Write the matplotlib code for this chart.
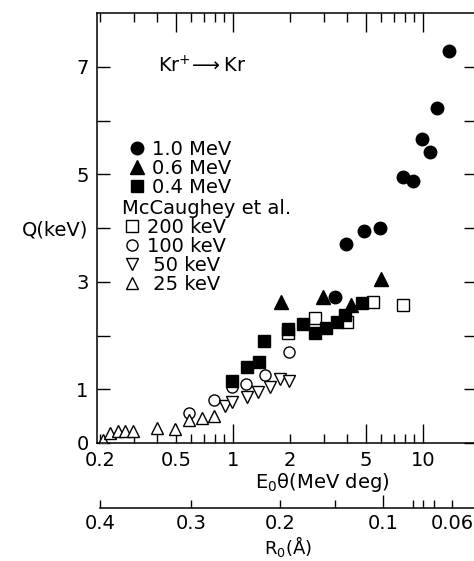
import matplotlib.pyplot as plt

# E0*theta (MeV deg) and Q (keV)
e_10 = [3.44, 3.93, 4.91, 5.94, 7.82, 8.89, 9.84, 10.9, 11.8, 13.7]
q_10 = [2.72, 3.71, 3.95, 4.00, 4.95, 4.87, 5.66, 5.42, 6.23, 7.30]

e_06 = [1.78, 2.99, 4.18, 5.98]
q_06 = [2.63, 2.72, 2.57, 3.05]

e_04 = [0.99, 1.18, 1.37, 1.46, 1.95, 2.34, 2.70, 3.10, 3.51, 3.89, 4.75]
q_04 = [1.16, 1.42, 1.50, 1.90, 2.12, 2.22, 2.04, 2.14, 2.26, 2.38, 2.60]

e_200 = [1.95, 2.70, 3.96, 5.48, 7.88]
q_200 = [2.04, 2.32, 2.26, 2.63, 2.56]

e_100 = [0.59, 0.79, 0.99, 1.17, 1.47, 1.97]
q_100 = [0.55, 0.80, 1.05, 1.10, 1.27, 1.70]

e_50 = [0.91, 0.99, 1.19, 1.36, 1.56, 1.77, 1.96]
q_50 = [0.68, 0.76, 0.86, 0.95, 1.04, 1.20, 1.16]

e_25 = [0.208, 0.225, 0.249, 0.27, 0.297, 0.397, 0.495, 0.59, 0.69, 0.79]
q_25 = [0.06, 0.18, 0.23, 0.23, 0.23, 0.27, 0.26, 0.43, 0.47, 0.50]

# R0 scale under the E0*theta axis: R0 value and the E0*theta it sits at
r0_vals = [0.4, 0.3, 0.2, 0.15, 0.1, 0.09, 0.08, 0.07, 0.06]
r0_at_e = [0.2, 0.6, 1.77, 3.44, 6.16, 8.86, 10.0, 11.4, 14.2]
r0_labels = ['0.4', '0.3', '0.2', '', '0.1', '', '', '', '0.06']

x_major = [0.2, 0.5, 1, 2, 5, 10]
x_major_labels = ['0.2', '0.5', '1', '2', '5', '10']
x_minor = [0.3, 0.4, 0.6, 0.7, 0.8, 0.9, 3, 4, 6, 7, 8, 9]
y_ticks = [0, 1, 2, 3, 4, 5, 6, 7]
y_labels = ['0', '1', '', '3', 'Q(keV)', '5', '', '7']

plt.rcParams['font.family'] = ['DejaVu Sans']
plt.rcParams['font.size'] = 14

fig = plt.figure(figsize=(4.74, 5.61), dpi=100)
ax = fig.add_axes([97 / 474, 118 / 561, 377 / 474, 430 / 561])

ms = dict(linestyle='none', color='black', mew=1.0)
h200, = ax.plot(e_200, q_200, 's', ms=8, mfc='white', **ms, zorder=2)
h100, = ax.plot(e_100, q_100, 'o', ms=8, mfc='white', **ms, zorder=2)
h50, = ax.plot(e_50, q_50, 'v', ms=9, mfc='white', **ms, zorder=2)
h25, = ax.plot(e_25, q_25, '^', ms=9, mfc='white', **ms, zorder=2)
h10, = ax.plot(e_10, q_10, 'o', ms=9, **ms, zorder=3)
h06, = ax.plot(e_06, q_06, '^', ms=10, **ms, zorder=3)
h04, = ax.plot(e_04, q_04, 's', ms=8.5, **ms, zorder=3)

ax.set_xscale('log')
ax.set_xlim(10 ** (-136 / 190), 10 ** (241 / 190))
ax.set_ylim(0, 8.0)

ax.set_xticks(x_major, x_major_labels)
ax.set_xticks(x_minor, minor=True)
ax.tick_params(axis='x', which='both', direction='in', top=True, pad=6, width=1.0)
ax.tick_params(axis='x', which='major', length=14)
ax.tick_params(axis='x', which='minor', length=6.5, labelbottom=False)
for t, v in zip(ax.xaxis.get_major_ticks(), x_major):
    if v in (0.2, 2):
        t.tick1line.set_markersize(6.5)
        t.tick2line.set_markersize(6.5)

ax.set_yticks(y_ticks, y_labels)
ax.tick_params(axis='y', direction='in', right=True, length=9.5, width=1.0, pad=6)
for t in ax.yaxis.get_major_ticks():
    t.tick2line.set_markersize(7)

ax.spines['right'].set_visible(False)
for s in ['left', 'top', 'bottom']:
    ax.spines[s].set_linewidth(1.1)

ax.set_xlabel('E$_0$θ(MeV deg)')
ax.xaxis.set_label_coords(0.597, -0.065)

ax.text(0.162, 0.877, r'Kr$^{+}\!\longrightarrow$Kr', transform=ax.transAxes,
        va='center', ha='left')

leg1 = ax.legend([h10, h06, h04], ['1.0 MeV', '0.6 MeV', '0.4 MeV'],
                 loc='upper left', bbox_to_anchor=(127 / 474, 421 / 561),
                 bbox_transform=fig.transFigure, frameon=False, borderpad=0,
                 borderaxespad=0, handlelength=1.0, handletextpad=0.3,
                 labelspacing=0.0, fontsize=14)
ax.add_artist(leg1)
ax.legend([h200, h100, h50, h25], ['200 keV', '100 keV', ' 50 keV', ' 25 keV'],
          title='McCaughey et al.', title_fontsize=14, alignment='left',
          loc='upper left', bbox_to_anchor=(122 / 474, 362 / 561),
          bbox_transform=fig.transFigure, frameon=False, borderpad=0,
          borderaxespad=0, handlelength=1.0, handletextpad=0.3,
          labelspacing=0.0, fontsize=14)

# R0 axis
ax2 = fig.add_axes([97 / 474, 53 / 561, 377 / 474, 0.001])
ax2.set_xscale('log')
ax2.set_xlim(ax.get_xlim())
ax2.patch.set_visible(False)
for s in ['left', 'right', 'top']:
    ax2.spines[s].set_visible(False)
ax2.spines['bottom'].set_bounds(0.2, ax.get_xlim()[1])
ax2.spines['bottom'].set_linewidth(1.1)
ax2.set_yticks([])
ax2.set_xticks(r0_at_e, r0_labels)
ax2.xaxis.set_minor_locator(plt.NullLocator())
ax2.tick_params(axis='x', direction='in', length=6, width=1.0, pad=4)
for t, v in zip(ax2.xaxis.get_major_ticks(), r0_vals):
    if v == 0.1:
        t.tick1line.set_markersize(9.5)

fig.text(288 / 474, 2 / 561, 'R$_0$(Å)', ha='center', va='bottom', fontsize=13)

fig.savefig('out.png', dpi=100)
